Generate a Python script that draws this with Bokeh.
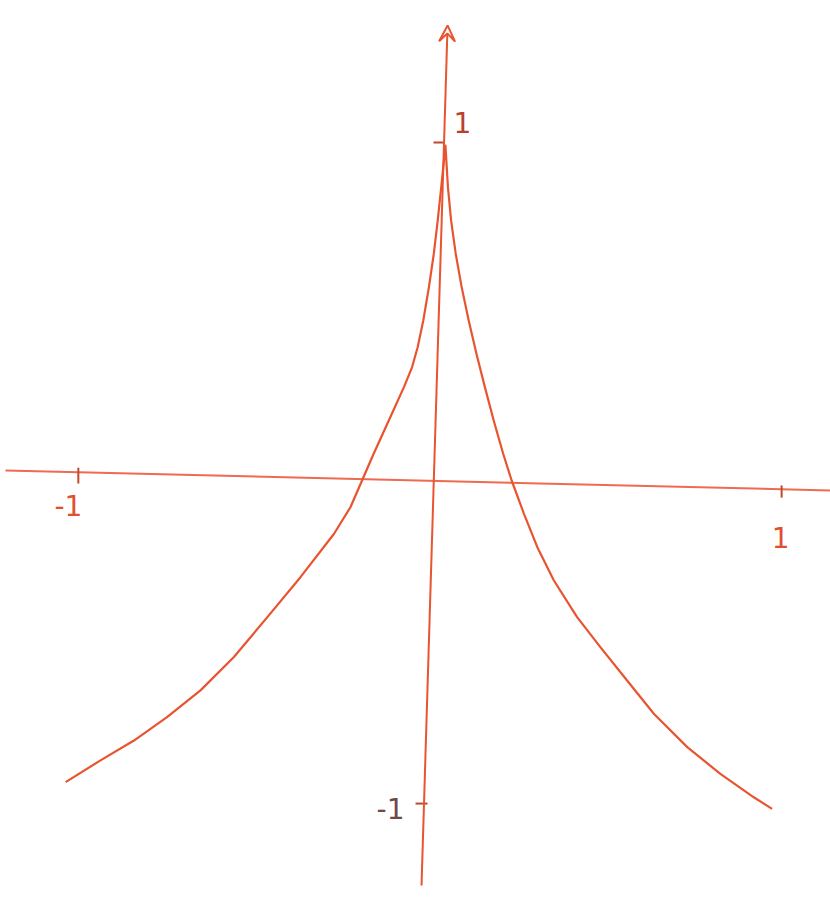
from bokeh.plotting import figure
from bokeh.models import Range1d, Arrow, VeeHead, ColumnDataSource
from bokeh.core.properties import value
from bokeh.embed import file_html
from bokeh.resources import INLINE

# Sketched curve: a cusp at the top, falling away on both sides
curve_x = [-1.045, -0.946, -0.851, -0.757, -0.662, -0.567, -0.472, -0.378,
           -0.283, -0.236, -0.203, -0.170, -0.127, -0.084, -0.061, -0.045,
           -0.029, -0.013, 0.001, 0.012, 0.022, 0.034,
           0.041, 0.050, 0.063, 0.080, 0.100, 0.122, 0.146, 0.171, 0.198,
           0.222, 0.257, 0.295, 0.342, 0.408, 0.474, 0.550, 0.626, 0.721,
           0.815, 0.910, 0.962]
curve_y = [-0.914, -0.848, -0.788, -0.717, -0.636, -0.535, -0.414, -0.293,
           -0.162, -0.081, 0.000, 0.081, 0.182, 0.283, 0.343, 0.404,
           0.485, 0.586, 0.688, 0.788, 0.889, 1.015,
           0.889, 0.788, 0.688, 0.586, 0.485, 0.384, 0.283, 0.182, 0.081,
           0.000, -0.101, -0.202, -0.303, -0.414, -0.505, -0.606, -0.707, -0.808,
           -0.889, -0.960, -0.995]

# Hand-drawn axes (slightly tilted)
xaxis_x = [-1.216, 1.128]
xaxis_y = [0.030, -0.030]
yaxis_x = [-0.034, 0.040]
yaxis_y = [-1.227, 1.379]

# Tick marks: start/end points
tick_x0 = [-1.009, 0.989, 0.000, -0.051]
tick_y0 = [0.039, -0.015, 1.024, -0.979]
tick_x1 = [-1.009, 0.989, 0.028, -0.017]
tick_y1 = [-0.009, -0.052, 1.024, -0.979]

# Tick labels
label_text = ["-1", "1", "1", "-1"]
label_x = [-1.037, 0.986, 0.082, -0.122]
label_y = [-0.076, -0.173, 1.085, -0.994]
label_color = ["#e0502c", "#e0502c", "#b8402c", "#6e4a46"]

INK = "#e8542f"

p = figure(width=830, height=907, output_backend="svg", toolbar_location=None,
           x_range=Range1d(-433 / 352, 397 / 352),
           y_range=Range1d(-427 / 330, 480 / 330),
           min_border=0, outline_line_color=None,
           background_fill_color="white", border_fill_color="white")
p.axis.visible = False
p.grid.visible = False

p.line(xaxis_x, xaxis_y, line_color="#ee6a50", line_width=2)
p.add_layout(Arrow(end=VeeHead(size=16, line_color=INK, line_width=2, fill_color=None),
                   x_start=yaxis_x[0], y_start=yaxis_y[0],
                   x_end=yaxis_x[1], y_end=yaxis_y[1],
                   line_color=INK, line_width=2))

p.segment(tick_x0, tick_y0, tick_x1, tick_y1, line_color="#c0482e", line_width=2)

p.line(curve_x, curve_y, line_color=INK, line_width=2.2, line_join="round")

labels = ColumnDataSource(dict(x=label_x, y=label_y, t=label_text, c=label_color))
p.text(x="x", y="y", text="t", text_color="c", source=labels,
       text_font=value("DejaVu Sans"), text_font_size="28px",
       text_align="center", text_baseline="middle")

open("out.html", "w").write(file_html(p, INLINE))
